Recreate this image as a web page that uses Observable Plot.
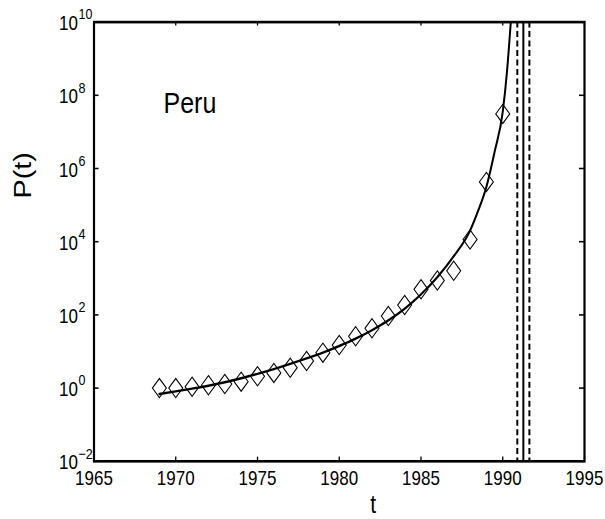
<!DOCTYPE html>
<html>
<head>
<meta charset="utf-8">
<script src="https://cdn.jsdelivr.net/npm/d3@7"></script>
<script src="https://cdn.jsdelivr.net/npm/@observablehq/plot@0.6"></script>
<style>
  html, body { margin: 0; padding: 0; background: #fff; }
  #chart svg { display: block; }
</style>
</head>
<body>
<div id="chart"></div>
<script>
// Observed data (diamonds): year and P(t)
const years = [1969, 1970, 1971, 1972, 1973, 1974, 1975, 1976, 1977, 1978, 1979,
               1980, 1981, 1982, 1983, 1984, 1985, 1986, 1987, 1988, 1989, 1990];
const values = [1.0, 1.0, 1.09, 1.2, 1.29, 1.5, 2.1, 2.6, 3.6, 5.5, 9.3,
                15, 26, 43, 93, 186, 500, 870, 1600, 11500, 430000, 31000000];

// Fitted curve
const fitT = [1969, 1970, 1971, 1972, 1973, 1974, 1975, 1976, 1977, 1978, 1979,
              1980, 1981, 1982, 1983, 1984, 1985, 1986, 1987, 1988, 1988.5,
              1989, 1989.5, 1990, 1990.25, 1990.5];
const fitP = [0.692, 0.813, 0.966, 1.161, 1.445, 1.862, 2.455, 3.311, 4.571, 6.457, 9.333,
              14.13, 22.39, 38.02, 70.79, 147.9, 363.1, 1072, 3981, 19950, 70790,
              316200, 2820000, 35500000, 398000000, 11200000000];

// Critical time (solid) and its bounds (dashed)
const tcCenter = [1991.26];
const tcBounds = [1990.89, 1991.63];

// Tick values
const xTicks = [1965, 1970, 1975, 1980, 1985, 1990, 1995];
const yTicks = [1e-2, 1e0, 1e2, 1e4, 1e6, 1e8, 1e10];
const yExponents = ["\u22122", "0", "2", "4", "6", "8", "10"];

const country = "Peru";
const xLabel = "t";
const yLabel = "P(t)";

const obs = years.map((t, i) => ({t, p: values[i]}));
const fit = fitT.map((t, i) => ({t, p: fitP[i]}));
const yTickData = yTicks.map((v, i) => ({v, e: yExponents[i]}));

// The figure is drawn in a 605 x (519/1.2) space and stretched vertically,
// like the reference (tall glyphs and diamonds).
const S = 1.2;
const W = 605, H = 519, h0 = H / S;
const mL = 93.5, mR = 21, mT = 21.5 / S, mB = h0 - 460.7 / S;
const fw = W - mL - mR, fh = h0 - mT - mB;
const font = "'Liberation Sans', Arial, Helvetica, sans-serif";

const diamond = {
  draw(context, size) {
    const hw = 7, hh = 8;
    context.moveTo(0, -hh);
    context.lineTo(hw, 0);
    context.lineTo(0, hh);
    context.lineTo(-hw, 0);
    context.closePath();
  }
};

const chart = Plot.plot({
  width: W,
  height: h0,
  marginLeft: mL,
  marginRight: mR,
  marginTop: mT,
  marginBottom: mB,
  style: {fontFamily: font, background: "#fff", color: "#000", overflow: "visible"},
  x: {domain: [1965, 1995], axis: null},
  y: {type: "log", domain: [1e-2, 1e10], axis: null},
  marks: [
    // inward ticks on all four sides
    Plot.tickX(xTicks, {x: d => d, insetTop: fh - 3.4, stroke: "#000", strokeWidth: 1.3}),
    Plot.tickX(xTicks, {x: d => d, insetBottom: fh - 3.4, stroke: "#000", strokeWidth: 1.3}),
    Plot.tickY(yTicks, {y: d => d, insetRight: fw - 5, stroke: "#000", strokeWidth: 1.3}),
    Plot.tickY(yTicks, {y: d => d, insetLeft: fw - 5, stroke: "#000", strokeWidth: 1.3}),
    // critical time lines
    Plot.ruleX(tcBounds, {x: d => d, stroke: "#000", strokeWidth: 2, strokeDasharray: "5,2.9"}),
    Plot.ruleX(tcCenter, {x: d => d, stroke: "#000", strokeWidth: 2}),
    // data
    Plot.dot(obs, {x: "t", y: "p", symbol: diamond, r: 6, stroke: "#000", strokeWidth: 1, fill: "none"}),
    // fit
    Plot.line(fit, {x: "t", y: "p", stroke: "#000", strokeWidth: 2, curve: "monotone-x", clip: true}),
    Plot.frame({stroke: "#000", strokeWidth: 2.2}),
    // x tick labels
    Plot.text(xTicks, {x: d => d, text: d => String(d), frameAnchor: "bottom", lineAnchor: "bottom",
      dy: 19.4, fontSize: 17, fill: "#000"}),
    // y tick labels: "10" + exponent
    Plot.text(yTickData, {y: "v", text: () => "10", frameAnchor: "left", textAnchor: "end", lineAnchor: "bottom",
      dx: -16, dy: 6.7, fontSize: 17, fill: "#000"}),
    Plot.text(yTickData, {y: "v", text: "e", frameAnchor: "left", textAnchor: "start", lineAnchor: "bottom",
      dx: -15.5, dy: -2.2, fontSize: 12.5, fill: "#000"}),
    // axis titles
    Plot.text([xLabel], {frameAnchor: "bottom", lineAnchor: "bottom", dx: 34, dy: 43.4, fontSize: 21, fill: "#000"}),
    Plot.text([yLabel], {frameAnchor: "left", rotate: -90, lineAnchor: "middle", dx: -71, dy: -36,
      fontSize: 24, fill: "#000"}),
    // country label
    Plot.text([country], {frameAnchor: "top-left", textAnchor: "start", lineAnchor: "bottom",
      dx: 69.5, dy: 75.4, fontSize: 25, fill: "#000"})
  ]
});

chart.setAttribute("height", H);
chart.setAttribute("width", W);
chart.setAttribute("viewBox", `0 0 ${W} ${h0}`);
chart.setAttribute("preserveAspectRatio", "none");
chart.style.height = H + "px";
chart.style.width = W + "px";
chart.style.maxWidth = "none";

document.getElementById("chart").appendChild(chart);
</script>
</body>
</html>
